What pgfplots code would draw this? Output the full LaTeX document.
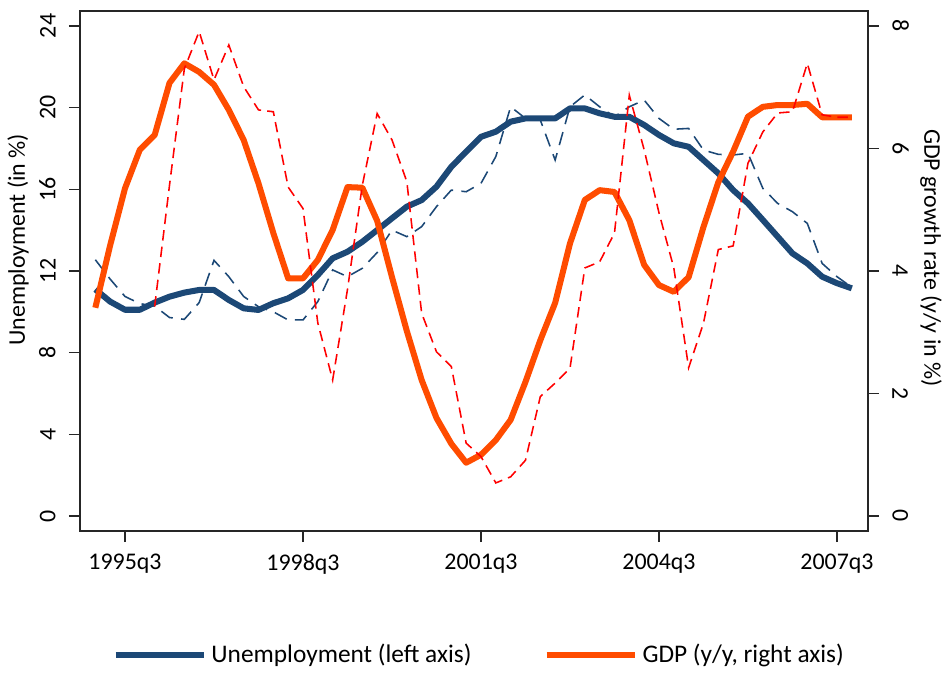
\documentclass[border=0pt]{standalone}
\usepackage{fontspec}
\setmainfont{Carlito}
\usepackage{pgfplots}
\usepackage{pgfplotstable}
\pgfplotsset{compat=1.18}
\definecolor{unblue}{RGB}{28,72,118}
\definecolor{gdporange}{RGB}{255,76,0}
\definecolor{gdpred}{RGB}{255,0,0}
\newcommand\cf{\fontsize{11.5}{13.8}\selectfont}
\newcommand\lf{\fontsize{12.2}{14.6}\selectfont}

% quarters: 0 = 1995q1 ... 51 = 2007q4
% U = unemployment (smoothed), Uq = unemployment (quarterly)
% G = GDP y/y (smoothed), Gq = GDP y/y (quarterly)
\pgfplotstableread{
q  U      Uq     G     Gq
0  11.10  12.55  3.40  nan
1  10.50  11.60  4.42  nan
2  10.10  10.75  5.35  nan
3  10.10  10.40  5.98  nan
4  10.45  10.28  6.22  3.42
5  10.74  9.72   7.07  5.40
6  10.94  9.63   7.39  7.30
7  11.07  10.45  7.25  7.91
8  11.07  12.52  7.04  7.12
9  10.58  11.72  6.63  7.69
10 10.17  10.75  6.14  7.01
11 10.09  10.25  5.43  6.63
12 10.42  10.00  4.62  6.60
13 10.66  9.60   3.88  5.37
14 11.07  9.60   3.88  5.02
15 11.80  10.50  4.18  3.15
16 12.62  12.05  4.67  2.22
17 12.94  11.72  5.37  3.70
18 13.43  12.13  5.36  5.40
19 14.00  12.90  4.82  6.57
20 14.58  14.00  3.90  6.14
21 15.15  13.68  3.02  5.46
22 15.47  14.17  2.22  3.31
23 16.13  15.15  1.60  2.68
24 17.10  15.96  1.18  2.44
25 17.84  15.88  0.87  1.19
26 18.57  16.29  1.00  0.97
27 18.82  17.60  1.24  0.54
28 19.31  20.04  1.57  0.64
29 19.47  19.47  2.19  0.91
30 19.47  19.39  2.87  1.95
31 19.47  17.43  3.48  2.17
32 19.96  20.04  4.45  2.41
33 19.96  20.62  5.16  4.05
34 19.72  20.04  5.32  4.15
35 19.55  19.55  5.29  4.62
36 19.55  20.04  4.83  6.87
37 19.15  20.37  4.10  5.98
38 18.66  19.47  3.77  4.95
39 18.25  18.94  3.66  4.05
40 18.08  18.98  3.90  2.42
41 17.43  17.92  4.72  3.15
42 16.78  17.71  5.45  4.35
43 15.96  17.68  5.95  4.41
44 15.31  17.76  6.52  5.76
45 14.50  16.05  6.68  6.27
46 13.68  15.31  6.71  6.58
47 12.86  14.90  6.71  6.60
48 12.37  14.33  6.73  7.39
49 11.72  12.37  6.51  6.55
50 11.40  11.72  6.51  6.51
51 11.15  11.20  6.51  6.51
}\macro

\pgfplotsset{
  base/.style={
    at={(0,0)}, anchor=south west,
    scale only axis, width=13.327cm, height=8.795cm,
    xmin=-1.034, xmax=52.09,
    axis line style={line width=0.7pt, black!85},
    tick style={line width=0.7pt, black!85},
    tick align=outside, major tick length=0.186cm,
    tick label style={font=\cf},
    label style={font=\cf},
    /pgf/number format/assume math mode=true,
    every axis plot/.append style={mark=none},
  }
}

\begin{document}
\begin{tikzpicture}
\path[use as bounding box] (-1.353cm,-2.385cm) rectangle (14.647cm,8.981cm);

\begin{axis}[base,
  ymin=-0.735, ymax=24.73,
  xtick={2,14,26,38,50},
  xticklabels={1995q3,1998q3,2001q3,2004q3,2007q3},
  xtick pos=bottom, ytick pos=left,
  ytick={0,4,...,24},
  xticklabel style={yshift=-0.2cm, anchor=north, inner sep=0pt},
  yticklabel style={xshift=-0.22cm, rotate=90, anchor=south, inner sep=0pt},
  ylabel={Unemployment (in \%)},
  ylabel style={at={(axis description cs:-0.0787,0.56)}, anchor=center},
]
\addplot[unblue, line width=0.75pt, dash pattern=on 6.5pt off 4pt] table[x=q,y=Uq]{\macro};
\addplot[unblue, line width=2.9pt, line join=round] table[x=q,y=U]{\macro};
\end{axis}

\begin{axis}[base,
  ymin=-0.245, ymax=8.245,
  axis x line=none, axis y line*=right,
  ytick={0,2,...,8},
  yticklabel style={xshift=0.22cm, rotate=-90, anchor=south, inner sep=0pt},
  ylabel={GDP growth rate (y/y in \%)},
  ylabel style={at={(axis description cs:1.080,0.525)}, anchor=center, rotate=180},
  legend columns=2,
  legend style={at={(axis description cs:0.508,-0.238)}, anchor=center,
    draw=none, fill=none, font=\lf,
    /tikz/every even column/.append style={column sep=1.15cm}},
  legend image code/.code={\draw[#1] (0cm,0cm) -- (1.5cm,0cm);},
]
\addlegendimage{unblue, line width=2.9pt}
\addlegendentry{Unemployment (left axis)}
\addplot[gdporange, line width=2.9pt, line join=round] table[x=q,y=G]{\macro};
\addlegendentry{GDP (y/y, right axis)}
\addplot[gdpred, line width=0.75pt, dash pattern=on 5pt off 3pt, forget plot] table[x=q,y=Gq]{\macro};
\end{axis}
\end{tikzpicture}
\end{document}
